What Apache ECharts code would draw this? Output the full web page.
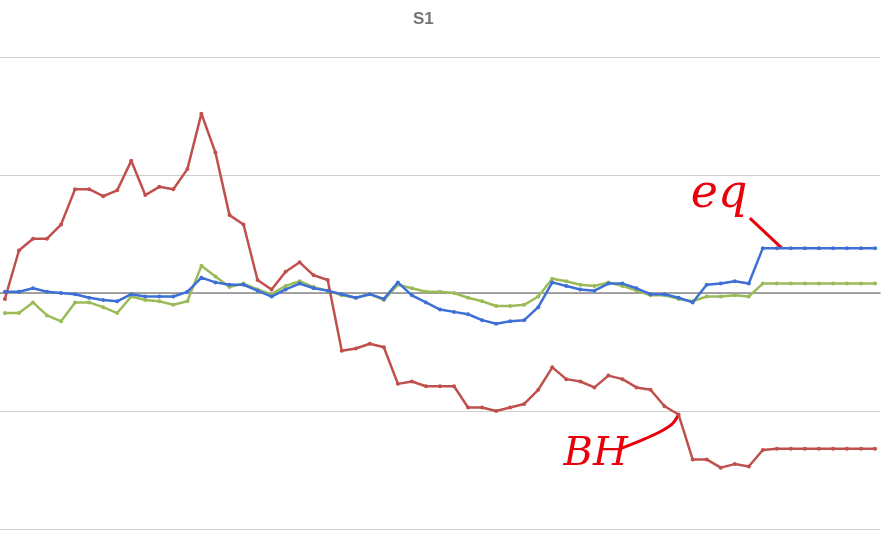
<!DOCTYPE html>
<html>
<head>
<meta charset="utf-8">
<script src="https://cdn.jsdelivr.net/npm/echarts@6/dist/echarts.min.js"></script>
<style>html,body{margin:0;padding:0;background:#fff}#c{width:891px;height:551px}</style>
</head>
<body>
<div id="c"></div>
<script>
const titleText = "S1";
const bhValues = [-0.5,3.6,4.6,4.6,5.8,8.8,8.8,8.2,8.7,11.2,8.3,9.0,8.8,10.5,15.2,11.9,6.6,5.8,1.1,0.3,1.8,2.6,1.5,1.1,-4.9,-4.7,-4.3,-4.6,-7.7,-7.5,-7.9,-7.9,-7.9,-9.7,-9.7,-10.0,-9.7,-9.4,-8.2,-6.3,-7.3,-7.5,-8.0,-7.0,-7.3,-8.0,-8.2,-9.6,-10.3,-14.1,-14.1,-14.8,-14.5,-14.7,-13.3,-13.2,-13.2,-13.2,-13.2,-13.2,-13.2,-13.2,-13.2];
const eqValues = [0.1,0.1,0.4,0.1,0.0,-0.1,-0.4,-0.6,-0.7,-0.1,-0.3,-0.3,-0.3,0.1,1.3,0.9,0.7,0.7,0.2,-0.3,0.3,0.8,0.4,0.2,-0.1,-0.4,-0.1,-0.5,0.9,-0.2,-0.8,-1.4,-1.6,-1.8,-2.3,-2.6,-2.4,-2.3,-1.2,0.9,0.6,0.3,0.2,0.8,0.8,0.4,-0.1,-0.1,-0.4,-0.8,0.7,0.8,1.0,0.8,3.8,3.8,3.8,3.8,3.8,3.8,3.8,3.8,3.8];
const s3Values = [-1.7,-1.7,-0.8,-1.9,-2.4,-0.8,-0.8,-1.2,-1.7,-0.3,-0.6,-0.7,-1.0,-0.7,2.3,1.4,0.5,0.8,0.3,-0.1,0.6,1.0,0.5,0.2,-0.2,-0.4,-0.1,-0.6,0.7,0.4,0.1,0.1,0.0,-0.4,-0.7,-1.1,-1.1,-1.0,-0.3,1.2,1.0,0.7,0.6,0.9,0.6,0.2,-0.2,-0.2,-0.5,-0.7,-0.3,-0.3,-0.2,-0.3,0.8,0.8,0.8,0.8,0.8,0.8,0.8,0.8,0.8];
const annotEq = "eq";
const annotBH = "BH";
const eqAnchorIndex = 55;
const bhAnchorIndex = 48;

const toXY = arr => arr.map((v, i) => [i, v]);
const chart = echarts.init(document.getElementById('c'), null, {renderer: 'canvas'});
const mk = (name, data, color, z) => ({
  name, type: 'line', data: toXY(data), z,
  symbol: 'circle', symbolSize: 4, showSymbol: true,
  lineStyle: {color, width: 2.5}, itemStyle: {color},
  emphasis: {disabled: true}, animation: false
});
chart.setOption({
  animation: false,
  grid: {left: 0, right: 11, top: 57, height: 472, containLabel: false},
  xAxis: {type: 'value', min: -0.35, max: 62.35,
    axisLine: {show: true, onZero: true, lineStyle: {color: '#8a8a8a', width: 1.5}},
    axisTick: {show: false}, axisLabel: {show: false}, splitLine: {show: false}},
  yAxis: {type: 'value', min: -20, max: 20, interval: 10,
    axisLine: {show: false}, axisTick: {show: false}, axisLabel: {show: false},
    splitLine: {show: true, lineStyle: {color: '#cfcfcf', width: 1}}},
  series: [
    mk('S3', s3Values, '#9bbb59', 3),
    mk(annotBH, bhValues, '#c0504d', 4),
    mk(annotEq, eqValues, '#3d6fd6', 5)
  ]
});
const eqP = chart.convertToPixel({seriesIndex: 2}, [eqAnchorIndex, eqValues[eqAnchorIndex]]);
const bhP = chart.convertToPixel({seriesIndex: 1}, [bhAnchorIndex, bhValues[bhAnchorIndex]]);
const red = '#e8000b';
chart.setOption({
  graphic: [
    {type: 'text', left: 413, top: 11, style: {text: titleText, fill: '#757575', font: 'bold 17px "Liberation Sans", Arial, sans-serif'}},
    {type: 'text', x: eqP[0] - 86, y: eqP[1] - 76, style: {text: annotEq, fill: red, font: 'italic 46px "DejaVu Serif", serif'}},
    {type: 'line', shape: {x1: eqP[0] - 27, y1: eqP[1] - 30, x2: eqP[0] + 5, y2: eqP[1]}, style: {stroke: red, lineWidth: 3}},
    {type: 'text', x: bhP[0] - 115, y: bhP[1] + 20, style: {text: annotBH, fill: red, font: 'italic 40px "DejaVu Serif", serif'}},
    {type: 'polyline', shape: {points: [[bhP[0] - 58, bhP[1] + 34], [bhP[0] - 38, bhP[1] + 26], [bhP[0] - 20, bhP[1] + 18], [bhP[0] - 6, bhP[1] + 9], [bhP[0], bhP[1]]], smooth: 0.3}, style: {stroke: red, lineWidth: 3, fill: null}}
  ]
});
</script>
</body>
</html>
